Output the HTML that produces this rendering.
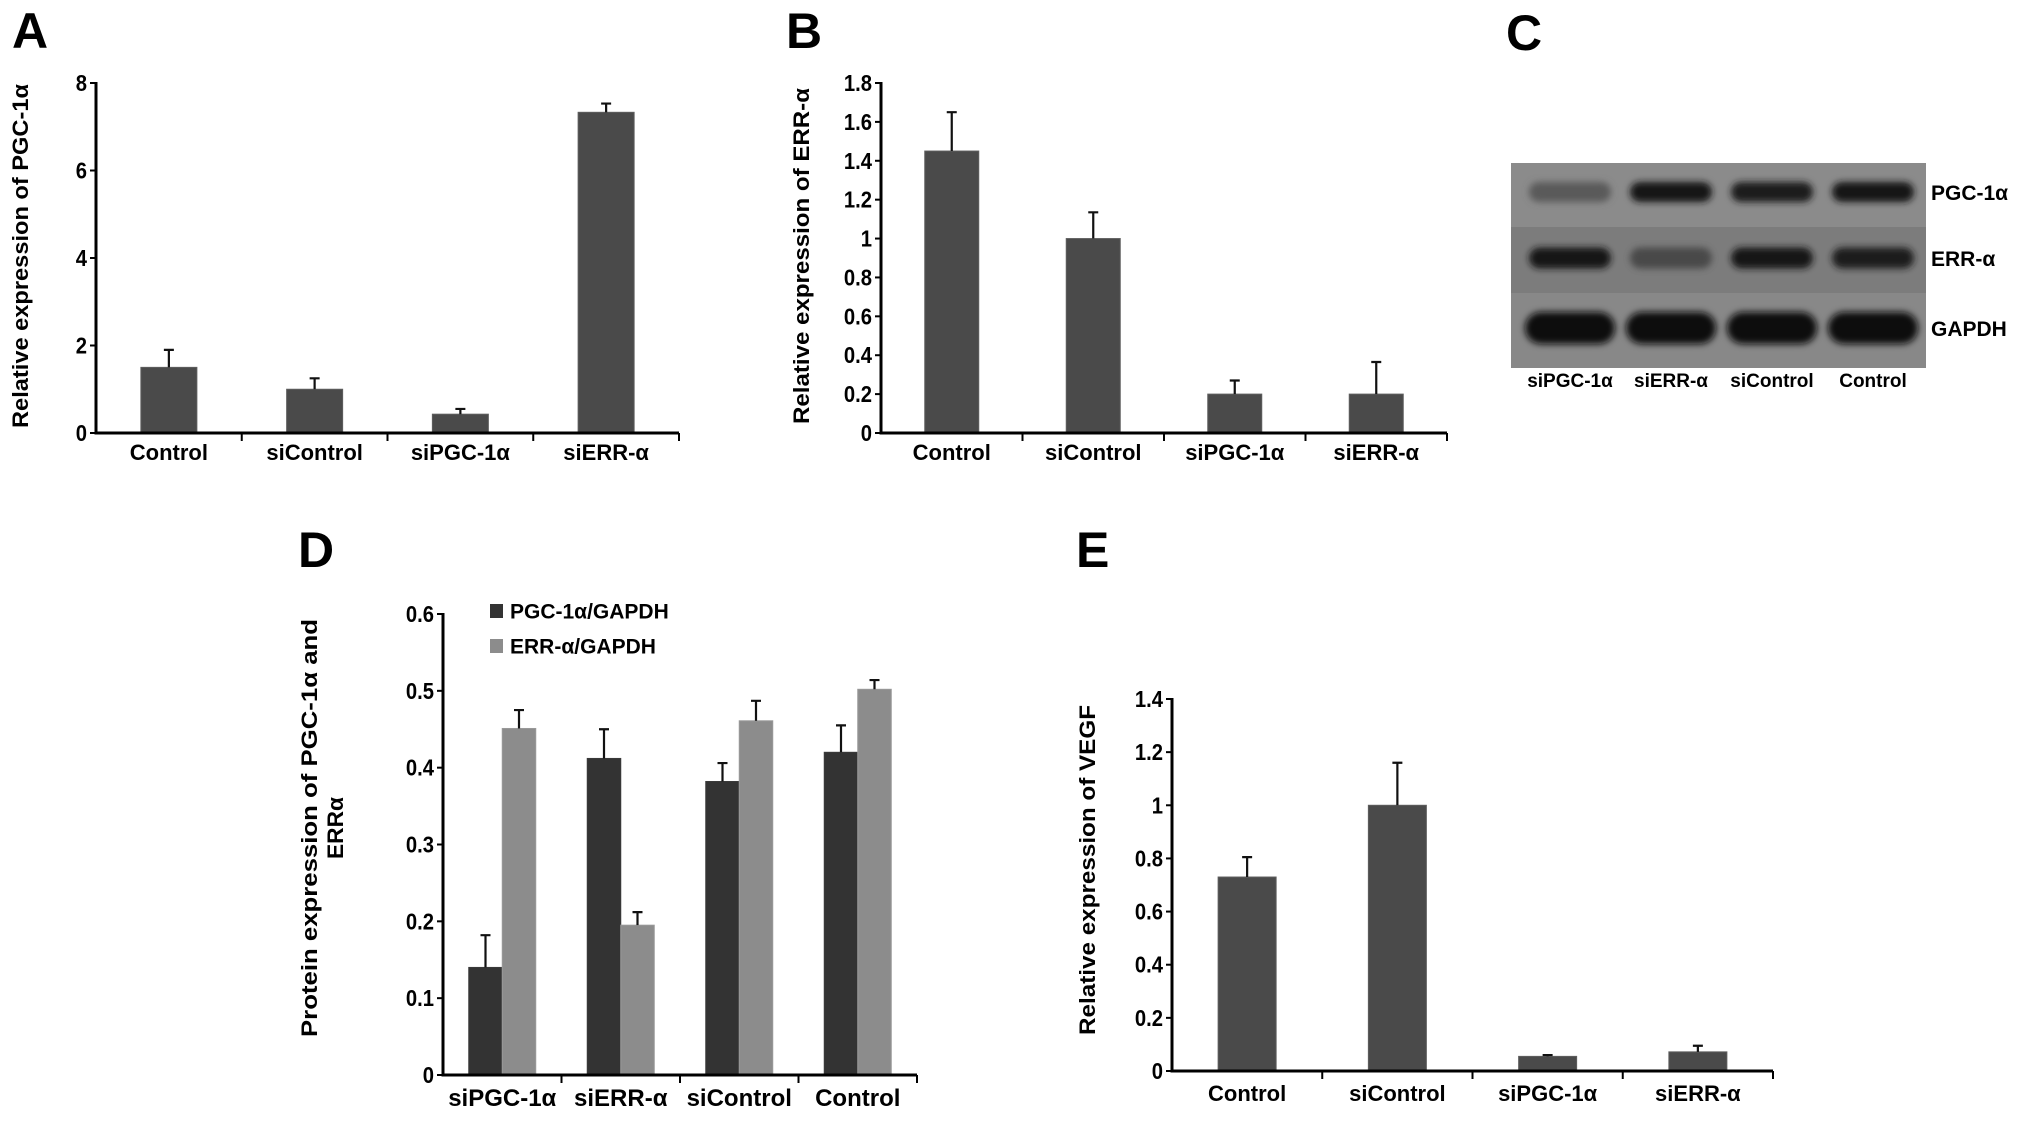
<!DOCTYPE html>
<html><head><meta charset="utf-8"><style>
html,body{margin:0;padding:0;background:#fff;}
svg{display:block;font-family:"Liberation Sans",Arial,sans-serif;font-weight:bold;}
</style></head><body>
<svg id="fig" width="2031" height="1127" viewBox="0 0 2031 1127" xmlns="http://www.w3.org/2000/svg">
<defs><filter id="blur" x="-20%" y="-50%" width="140%" height="200%"><feGaussianBlur stdDeviation="3.5"/></filter></defs>
<text x="12" y="48" font-size="50">A</text>
<text x="786" y="48" font-size="50">B</text>
<text x="1506" y="50" font-size="50">C</text>
<text x="298" y="567" font-size="50">D</text>
<text x="1076" y="567" font-size="50">E</text>
<g id="blot"></g>
</svg>
<script>
// Panel A
const catsA = ["Control","siControl","siPGC-1α","siERR-α"];
const valsA = [1.5, 1.0, 0.43, 7.33];
const errA = [0.4, 0.25, 0.12, 0.2];
const ticksA = ["0","2","4","6","8"];
const tickValsA = [0,2,4,6,8];
// Panel B
const catsB = ["Control","siControl","siPGC-1α","siERR-α"];
const valsB = [1.45, 1.0, 0.2, 0.2];
const errB = [0.2, 0.135, 0.07, 0.165];
const ticksB = ["0","0.2","0.4","0.6","0.8","1","1.2","1.4","1.6","1.8"];
const tickValsB = [0,0.2,0.4,0.6,0.8,1,1.2,1.4,1.6,1.8];
// Panel D
const catsD = ["siPGC-1α","siERR-α","siControl","Control"];
const seriesNamesD = ["PGC-1α/GAPDH","ERR-α/GAPDH"];
const valsD1 = [0.14, 0.412, 0.382, 0.42];
const errD1 = [0.042, 0.038, 0.024, 0.035];
const valsD2 = [0.451, 0.195, 0.461, 0.502];
const errD2 = [0.024, 0.017, 0.026, 0.012];
const ticksD = ["0","0.1","0.2","0.3","0.4","0.5","0.6"];
const tickValsD = [0,0.1,0.2,0.3,0.4,0.5,0.6];
// Panel E
const catsE = ["Control","siControl","siPGC-1α","siERR-α"];
const valsE = [0.73, 1.0, 0.055, 0.072];
const errE = [0.075, 0.16, 0.005, 0.023];
const ticksE = ["0","0.2","0.4","0.6","0.8","1","1.2","1.4"];
const tickValsE = [0,0.2,0.4,0.6,0.8,1,1.2,1.4];
// Panel C blot
const lanesC = ["siPGC-1α","siERR-α","siControl","Control"];
const proteinsC = ["PGC-1α","ERR-α","GAPDH"];
const intensPGC = [0.35, 0.95, 0.9, 0.95];
const intensERR = [0.92, 0.5, 0.92, 0.9];
const intensGAPDH = [1, 1, 1, 1];

const NS = "http://www.w3.org/2000/svg";
const svg = document.getElementById("fig");
function mk(tag, attrs, parent){
  const e = document.createElementNS(NS, tag);
  for (const k in attrs) e.setAttribute(k, attrs[k]);
  (parent||svg).appendChild(e);
  return e;
}
function chart(o){
  const g = mk("g", {});
  
  
  const maxV = o.tickVals[o.tickVals.length-1];
  const y = v => o.y0 - (v/maxV)*(o.y0-o.yTop);
  const n = o.cats.length;
  const cw = (o.xEnd - o.x0)/n;
  const xc = i => o.x0 + cw*(i+0.5);
  o.series.forEach((s, si) => {
    s.vals.forEach((v, i) => {
      const off = o.series.length === 1 ? -o.bw/2 : (si === 0 ? -o.bw : 0);
      const bx = xc(i) + off;
      const r = mk("rect", {x: bx, y: y(v), width: o.bw, height: o.y0 - y(v), fill: s.color, stroke: s.edge, "stroke-width": 1}, g);
      
      
      const ex = bx + o.bw/2;
      const eTop = y(v + s.err[i]);
      const el = mk("path", {d: `M${ex},${y(v)}V${eTop}M${ex-5},${eTop}H${ex+5}`, stroke: "#111", "stroke-width": 2.2, fill: "none"}, g);
      
      
    });
  });
  const ax = mk("path", {d: `M${o.x0},${o.yTop-1}V${o.y0}H${o.xEnd}`, stroke: "#000", "stroke-width": 3, fill: "none"}, g);
  
  
  o.tickVals.forEach((tv, i) => {
    mk("line", {x1: o.x0-6, x2: o.x0, y1: y(tv), y2: y(tv), stroke: "#000", "stroke-width": 2}, g);
    const t = mk("text", {x: o.x0-9, y: y(tv)+8, "font-size": 23, "text-anchor": "end", transform: `translate(${(o.x0-9)*0.12} 0) scale(0.88 1)`}, g);
    t.textContent = o.ticks[i];
    
    
  });
  for (let i = 1; i <= n; i++) {
    mk("line", {x1: o.x0+cw*i, x2: o.x0+cw*i, y1: o.y0, y2: o.y0+8, stroke: "#000", "stroke-width": 2}, g);
  }
  o.cats.forEach((c, i) => {
    const t = mk("text", {x: xc(i), y: o.y0+(o.xdy||27), "font-size": o.xfs||22, "text-anchor": "middle"}, g);
    t.textContent = c;
    
    
  });
  o.title.forEach((line, li) => {
    const tx = o.titleX + li*26;
    const t = mk("text", {x: tx, y: o.titleY, "font-size": 22, "text-anchor": "middle", transform: `rotate(-90 ${tx} ${o.titleY})`, textLength: o.titleLen[li], lengthAdjust: "spacingAndGlyphs"}, g);
    t.textContent = line;
    
    
  });
  return {y, xc};
}
chart({key:"a", name:"chart-a", cats:catsA, series:[{vals:valsA, err:errA, color:"#4a4a4a", edge:"#5e5e5e"}], ticks:ticksA, tickVals:tickValsA,
  x0:96, xEnd:679, y0:433, yTop:83, bw:56, title:["Relative expression of PGC-1α"], titleX:28, titleY:256, titleLen:[344]});
chart({key:"b", name:"chart-b", cats:catsB, series:[{vals:valsB, err:errB, color:"#4a4a4a", edge:"#5e5e5e"}], ticks:ticksB, tickVals:tickValsB,
  x0:881, xEnd:1447, y0:433, yTop:83, bw:54, title:["Relative expression of ERR-α"], titleX:809, titleY:256, titleLen:[336]});
chart({key:"d", name:"chart-d", cats:catsD, series:[{vals:valsD1, err:errD1, color:"#333333", edge:"#3a3a3a"},{vals:valsD2, err:errD2, color:"#8c8c8c", edge:"#999"}], ticks:ticksD, tickVals:tickValsD,
  x0:443, xEnd:917, y0:1075, yTop:614, bw:33.5, xfs:24, xdy:31, title:["Protein expression of PGC-1α and","ERRα"], titleX:317, titleY:828, titleLen:[418, 62]});
chart({key:"e", name:"chart-e", cats:catsE, series:[{vals:valsE, err:errE, color:"#4a4a4a", edge:"#5e5e5e"}], ticks:ticksE, tickVals:tickValsE,
  x0:1172, xEnd:1773, y0:1071, yTop:699, bw:58, xdy:30, title:["Relative expression of VEGF"], titleX:1095, titleY:870, titleLen:[330]});
seriesNamesD.forEach((nm, i) => {
  const cy = 611 + i*35;
  const r = mk("rect", {x: 490, y: cy-7, width: 13, height: 14, fill: i===0 ? "#333" : "#8c8c8c"});
  
  
  const t = mk("text", {x: 510, y: cy+7.5, "font-size": 21});
  t.textContent = nm;
  
  
});
const blot = document.getElementById("blot");
const rowY = [163, 227, 293];
const rowH = [64, 66, 75];
const rowFill = ["#8b8b8b", "#7c7c7c", "#888888"];
rowY.forEach((ry, i) => mk("rect", {x:1511, y:ry, width:415, height:rowH[i], fill:rowFill[i]}, blot));
const laneX = [1570, 1671, 1772, 1873];
const bandSets = [{vals:intensPGC, cy:192, h:20, w:82},{vals:intensERR, cy:258, h:21, w:82},{vals:intensGAPDH, cy:328, h:32, w:90}];
bandSets.forEach((b, bi) => {
  b.vals.forEach((v, i) => {
    const shade = Math.round(130 - 115*v);
    const e = mk("rect", {x: laneX[i]-b.w/2, y: b.cy-b.h/2, width: b.w, height: b.h, rx: b.h/2, fill: `rgb(${shade},${shade},${shade})`, filter: "url(#blur)"}, blot);
    
    
  });
  const t = mk("text", {x: 1931, y: b.cy+8, "font-size": 21}, blot);
  t.textContent = proteinsC[bi];
  
  
});
lanesC.forEach((l, i) => {
  const t = mk("text", {x: laneX[i], y: 387, "font-size": 19, "text-anchor": "middle"}, blot);
  t.textContent = l;
  
  
});
</script>
</body></html>
